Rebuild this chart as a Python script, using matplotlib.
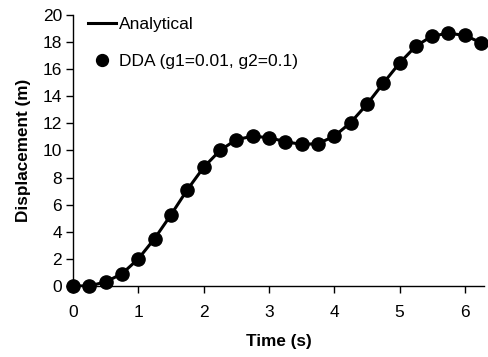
import matplotlib
matplotlib.use("Agg")
import matplotlib.pyplot as plt

plt.rcParams['font.family'] = ['Liberation Sans', 'DejaVu Sans']

time_s = [0.0, 0.25, 0.5, 0.75, 1.0, 1.25, 1.5, 1.75, 2.0, 2.25, 2.5, 2.75, 3.0,
          3.25, 3.5, 3.75, 4.0, 4.25, 4.5, 4.75, 5.0, 5.25, 5.5, 5.75, 6.0, 6.25]
displacement = [0.0, 0.0, 0.3, 0.9, 2.0, 3.5, 5.25, 7.1, 8.75, 10.0, 10.8, 11.05, 10.95,
                10.65, 10.45, 10.5, 11.05, 12.05, 13.4, 14.95, 16.45, 17.7, 18.45, 18.65,
                18.5, 17.95]
x_ticks = [0, 1, 2, 3, 4, 5, 6]
y_ticks = [0, 2, 4, 6, 8, 10, 12, 14, 16, 18, 20]

fig = plt.figure(figsize=(4.88, 3.57), dpi=100)
ax = fig.add_axes([0.1496, 0.199, 0.843, 0.759])

ax.plot(time_s, displacement, color='black', lw=2.2, label='Analytical', zorder=2)
ax.plot(time_s, displacement, 'o', color='black', ms=9.5, label='DDA (g1=0.01, g2=0.1)',
        zorder=3, clip_on=False)

ax.set_xlim(0, 6.3)
ax.set_ylim(0, 20)
ax.set_xticks(x_ticks)
ax.set_yticks(y_ticks)
ax.spines['top'].set_visible(False)
ax.spines['right'].set_visible(False)
for s in ['left', 'bottom']:
    ax.spines[s].set_linewidth(1.0)
ax.tick_params(direction='out', length=5, width=1, labelsize=12.5, pad=3)
ax.tick_params(axis='x', pad=9)

ax.set_xlabel('Time (s)', fontsize=12.3, fontweight='bold', labelpad=10)
ax.set_ylabel('Displacement (m)', fontsize=12.3, fontweight='bold', labelpad=8)

leg = ax.legend(loc='upper left', frameon=False, fontsize=12.5, handlelength=1.6,
                handletextpad=0.15, labelspacing=1.3, borderaxespad=0.0,
                bbox_to_anchor=(0.02, 1.02), markerscale=0.9)

fig.savefig('out.png', dpi=100)
